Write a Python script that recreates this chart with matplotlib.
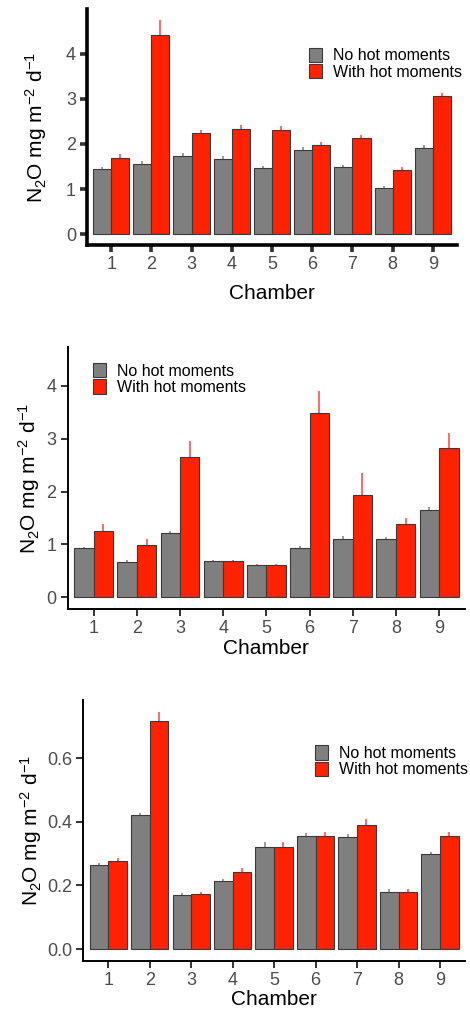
import matplotlib.pyplot as plt
import numpy as np

plt.rcParams['font.family'] = ['Liberation Sans', 'DejaVu Sans']
plt.rcParams['mathtext.fontset'] = 'custom'
plt.rcParams['mathtext.rm'] = 'Liberation Sans'
plt.rcParams['mathtext.it'] = 'Liberation Sans'

chambers = [1, 2, 3, 4, 5, 6, 7, 8, 9]

# panel 1
no_hot_1 = [1.44, 1.56, 1.74, 1.67, 1.46, 1.87, 1.48, 1.02, 1.92]
no_hot_err_1 = [0.06, 0.06, 0.06, 0.06, 0.045, 0.07, 0.05, 0.045, 0.06]
hot_1 = [1.70, 4.41, 2.24, 2.33, 2.30, 1.98, 2.13, 1.42, 3.07]
hot_err_1 = [0.07, 0.33, 0.07, 0.08, 0.09, 0.07, 0.07, 0.07, 0.07]

# panel 2
no_hot_2 = [0.925, 0.667, 1.22, 0.68, 0.61, 0.937, 1.107, 1.10, 1.648]
no_hot_err_2 = [0.03, 0.03, 0.04, 0.02, 0.02, 0.04, 0.06, 0.04, 0.06]
hot_2 = [1.258, 0.994, 2.66, 0.68, 0.61, 3.49, 1.943, 1.384, 2.83]
hot_err_2 = [0.126, 0.10, 0.30, 0.03, 0.03, 0.41, 0.415, 0.12, 0.27]

# panel 3
no_hot_3 = [0.264, 0.42, 0.17, 0.214, 0.3215, 0.355, 0.352, 0.1785, 0.2985]
no_hot_err_3 = [0.008, 0.008, 0.005, 0.006, 0.014, 0.011, 0.011, 0.01, 0.008]
hot_3 = [0.2766, 0.718, 0.173, 0.243, 0.3215, 0.355, 0.391, 0.1785, 0.356]
hot_err_3 = [0.01, 0.028, 0.006, 0.013, 0.015, 0.012, 0.017, 0.01, 0.011]

GREY = "#7f7f7f"
RED = "#ff2200"
EDGE = "#3a3a3a"

W, H = 470, 1010
fig = plt.figure(figsize=(W / 100, H / 100), dpi=100)


def make_axes(left, right, top, bottom):
    return fig.add_axes([left / W, 1 - bottom / H, (right - left) / W, (bottom - top) / H])


panels = [
    # data, pixel box, ylim, yticks, spine width, legend anchor, xlabel pad, ylabel pad
    (no_hot_1, no_hot_err_1, hot_1, hot_err_1, (87, 457, 9, 245), (-0.2375, 4.99),
     [0, 1, 2, 3, 4], ['0', '1', '2', '3', '4'], 2.6, (0.60, 0.836), 8, 12),
    (no_hot_2, no_hot_err_2, hot_2, hot_err_2, (67.7, 465, 347.3, 609.3), (-0.225, 4.725),
     [0, 1, 2, 3, 4], ['0', '1', '2', '3', '4'], 1.4, (0.063, 0.94), 1.5, 3),
    (no_hot_3, no_hot_err_3, hot_3, hot_err_3, (83.3, 465, 700, 961), (-0.0373, 0.783),
     [0, 0.2, 0.4, 0.6], ['0.0', '0.2', '0.4', '0.6'], 1.4, (0.607, 0.826), 0.5, 2),
]

x = np.array(chambers)
bw = 0.45
for g, ge, r, re_, box, ylim, yt, ytl, lw, leg, xpad, ypad in panels:
    ax = make_axes(*box)
    # error bars sit behind the bars, no caps
    ax.errorbar(x - bw / 2, g, yerr=ge, fmt='none', ecolor="#8c8c8c", elinewidth=1.2, capsize=0, zorder=1)
    ax.errorbar(x + bw / 2, r, yerr=re_, fmt='none', ecolor="#ff5050", elinewidth=1.2, capsize=0, zorder=1)
    ax.bar(x - bw / 2, g, width=bw, color=GREY, edgecolor=EDGE, linewidth=0.8, zorder=2,
           label="No hot moments")
    ax.bar(x + bw / 2, r, width=bw, color=RED, edgecolor=EDGE, linewidth=0.8, zorder=2,
           label="With hot moments")
    ax.set_xlim(0.4, 9.6)
    ax.set_ylim(*ylim)
    ax.set_xticks(chambers)
    ax.set_xticklabels([str(c) for c in chambers])
    ax.set_yticks(yt)
    ax.set_yticklabels(ytl)
    for s in ['top', 'right']:
        ax.spines[s].set_visible(False)
    for s in ['left', 'bottom']:
        ax.spines[s].set_linewidth(lw)
        ax.spines[s].set_color('black')
    ax.tick_params(axis='both', labelsize=13, labelcolor="#4d4d4d", color="#333333",
                   width=lw, length=5, pad=3)
    ax.set_xlabel("Chamber", fontsize=15, labelpad=xpad)
    ax.set_ylabel("N$_2$O mg m$^{-2}$ d$^{-1}$", fontsize=15, labelpad=ypad)
    ax.legend(loc='upper left', bbox_to_anchor=leg, frameon=False, fontsize=11.5,
              handlelength=0.8, handleheight=1.0, handletextpad=0.7, labelspacing=0.05,
              borderaxespad=0, borderpad=0)

fig.savefig("out.png", dpi=100)
